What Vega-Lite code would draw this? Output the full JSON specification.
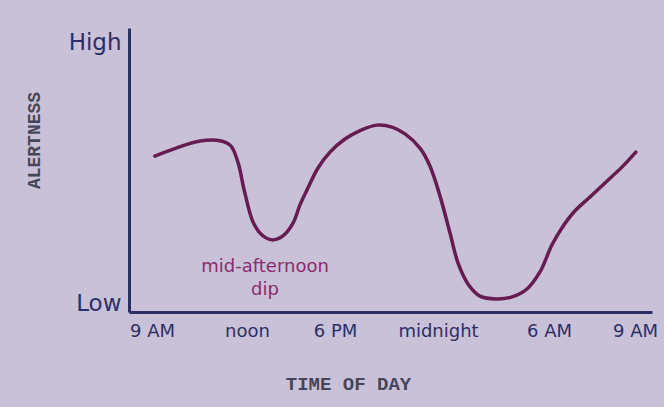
{
  "$schema": "https://vega.github.io/schema/vega-lite/v6.json",
  "width": 523,
  "height": 284,
  "autosize": "none",
  "padding": {"left": 129, "top": 28, "right": 12, "bottom": 95},
  "background": "#c9c1d8",
  "config": {
    "view": {"stroke": null},
    "axis": {"grid": false, "ticks": false, "domainColor": "#2c2e66", "domainWidth": 3, "labelColor": "#2c2f66", "labelFont": "DejaVu Sans", "titleFont": "Liberation Mono", "titleColor": "#46465a", "titleFontWeight": "bold"}
  },
  "datasets": {
    "curve": [
      {"hour": 0.09, "alertness": 54.9},
      {"hour": 0.76, "alertness": 57.7},
      {"hour": 1.52, "alertness": 60.2},
      {"hour": 2.18, "alertness": 60.2},
      {"hour": 2.49, "alertness": 58.5},
      {"hour": 2.72, "alertness": 52.5},
      {"hour": 2.91, "alertness": 43.0},
      {"hour": 3.41, "alertness": 31.7},
      {"hour": 4.02, "alertness": 27.1},
      {"hour": 4.70, "alertness": 25.4},
      {"hour": 5.45, "alertness": 26.8},
      {"hour": 6.14, "alertness": 31.3},
      {"hour": 6.61, "alertness": 37.7},
      {"hour": 7.09, "alertness": 43.0},
      {"hour": 7.84, "alertness": 50.7},
      {"hour": 8.66, "alertness": 56.3},
      {"hour": 9.58, "alertness": 60.9},
      {"hour": 10.46, "alertness": 63.9},
      {"hour": 11.45, "alertness": 65.8},
      {"hour": 12.32, "alertness": 65.1},
      {"hour": 13.08, "alertness": 62.7},
      {"hour": 13.95, "alertness": 57.7},
      {"hour": 14.53, "alertness": 51.4},
      {"hour": 15.11, "alertness": 40.8},
      {"hour": 15.65, "alertness": 27.8},
      {"hour": 16.08, "alertness": 17.3},
      {"hour": 16.62, "alertness": 9.9},
      {"hour": 17.27, "alertness": 5.6},
      {"hour": 18.14, "alertness": 4.6},
      {"hour": 19.0, "alertness": 5.3},
      {"hour": 19.81, "alertness": 8.1},
      {"hour": 20.51, "alertness": 14.1},
      {"hour": 21.10, "alertness": 23.6},
      {"hour": 21.45, "alertness": 29.6},
      {"hour": 21.87, "alertness": 35.2},
      {"hour": 22.43, "alertness": 40.5},
      {"hour": 22.99, "alertness": 45.8},
      {"hour": 23.55, "alertness": 51.1},
      {"hour": 24.10, "alertness": 56.3}
    ],
    "notes": [
      {"hour": 4.23, "alertness": 15.8, "label": "mid-afternoon"},
      {"hour": 4.23, "alertness": 7.8, "label": "dip"}
    ]
  },
  "layer": [
    {
      "data": {"name": "curve"},
      "mark": {"type": "line", "interpolate": "catmull-rom", "color": "#661c50", "strokeWidth": 3.5, "strokeCap": "round"},
      "encoding": {
        "x": {
          "field": "hour", "type": "quantitative",
          "scale": {"domain": [-0.73, 0, 3, 9, 15, 21, 24, 24.59], "range": [0, 23, 118, 206, 309, 420, 506, 523]},
          "axis": {
            "values": [0, 3, 9, 15, 21, 24],
            "labelExpr": "datum.value == 0 || datum.value == 24 ? '9 AM' : datum.value == 3 ? 'noon' : datum.value == 9 ? '6 PM' : datum.value == 15 ? 'midnight' : '6 AM'",
            "labelFontSize": 18,
            "labelPadding": 10,
            "labelBaseline": "top",
            "labelFlush": false,
            "labelOverlap": false,
            "title": "TIME OF DAY",
            "titleFontSize": 19,
            "titleX": 219,
            "titleY": 71,
            "titleAlign": "center",
            "titleBaseline": "middle"
          }
        },
        "y": {
          "field": "alertness", "type": "quantitative",
          "scale": {"domain": [0, 100]},
          "axis": {
            "values": [0.5, 92.5],
            "labelExpr": "datum.value < 50 ? 'Low' : 'High'",
            "labelFontSize": 23,
            "labelPadding": 8,
            "labelBaseline": "alphabetic",
            "labelFlush": false,
            "labelOverlap": false,
            "title": "ALERTNESS",
            "titleFontSize": 18,
            "titleX": -95,
            "titleY": 112,
            "titleAlign": "center",
            "titleBaseline": "middle"
          }
        }
      }
    },
    {
      "data": {"name": "notes"},
      "mark": {"type": "text", "font": "DejaVu Sans", "fontSize": 18, "color": "#8a2c6c", "align": "center", "baseline": "middle"},
      "encoding": {
        "x": {"field": "hour", "type": "quantitative"},
        "y": {"field": "alertness", "type": "quantitative"},
        "text": {"field": "label"}
      }
    }
  ]
}
